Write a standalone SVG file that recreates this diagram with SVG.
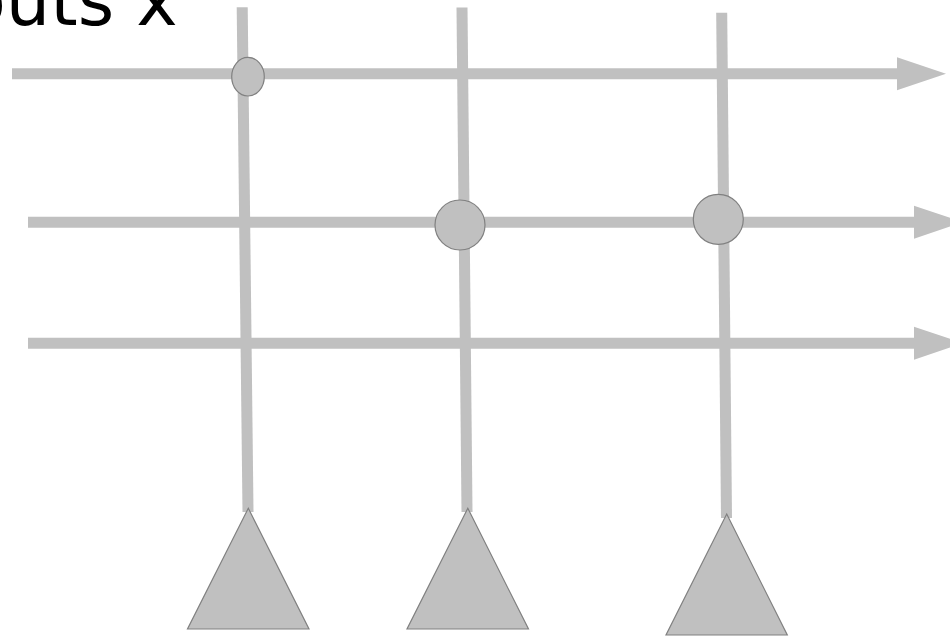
<svg xmlns="http://www.w3.org/2000/svg" width="950" height="637" viewBox="0 0 950 637">
<style>
.wire{stroke:#c0c0c0;stroke-width:11;fill:none;stroke-linecap:butt}
.head{fill:#c0c0c0;stroke:none}
.node{fill:#c0c0c0;stroke:#808080;stroke-width:1.2}
.lbl{font-family:"DejaVu Sans",sans-serif;font-size:70px;fill:#000}
</style>
<rect width="950" height="637" fill="#fff"/>
<text class="lbl" x="-37" y="25">outs x</text>
<g id="connectors">
<line class="wire" x1="12" y1="73.8" x2="898" y2="73.8"/>
<polygon class="head" points="897,57.3 946,73.8 897,90.3"/>
<line class="wire" x1="28" y1="222.2" x2="915" y2="222.2"/>
<polygon class="head" points="914,205.7 963,222.2 914,238.7"/>
<line class="wire" x1="28" y1="343.2" x2="915" y2="343.2"/>
<polygon class="head" points="914,326.7 963,343.2 914,359.7"/>
<line class="wire" x1="242.2" y1="7.3" x2="248" y2="512"/>
<line class="wire" x1="462" y1="7.5" x2="467" y2="512"/>
<line class="wire" x1="721.7" y1="12.7" x2="726.5" y2="518"/>
</g>
<g id="c1"><ellipse class="node" cx="248" cy="76.7" rx="16.3" ry="19.3"/></g>
<g id="c2"><circle class="node" cx="460" cy="225" r="25"/></g>
<g id="c3"><circle class="node" cx="718.3" cy="219.3" r="25"/></g>
<g id="t1"><polygon class="node" points="248.3,508.3 309,629 187.5,629"/></g>
<g id="t2"><polygon class="node" points="467.8,508.3 528.5,629 407,629"/></g>
<g id="t3"><polygon class="node" points="726.7,514 787.3,635 666,635"/></g>
</svg>
